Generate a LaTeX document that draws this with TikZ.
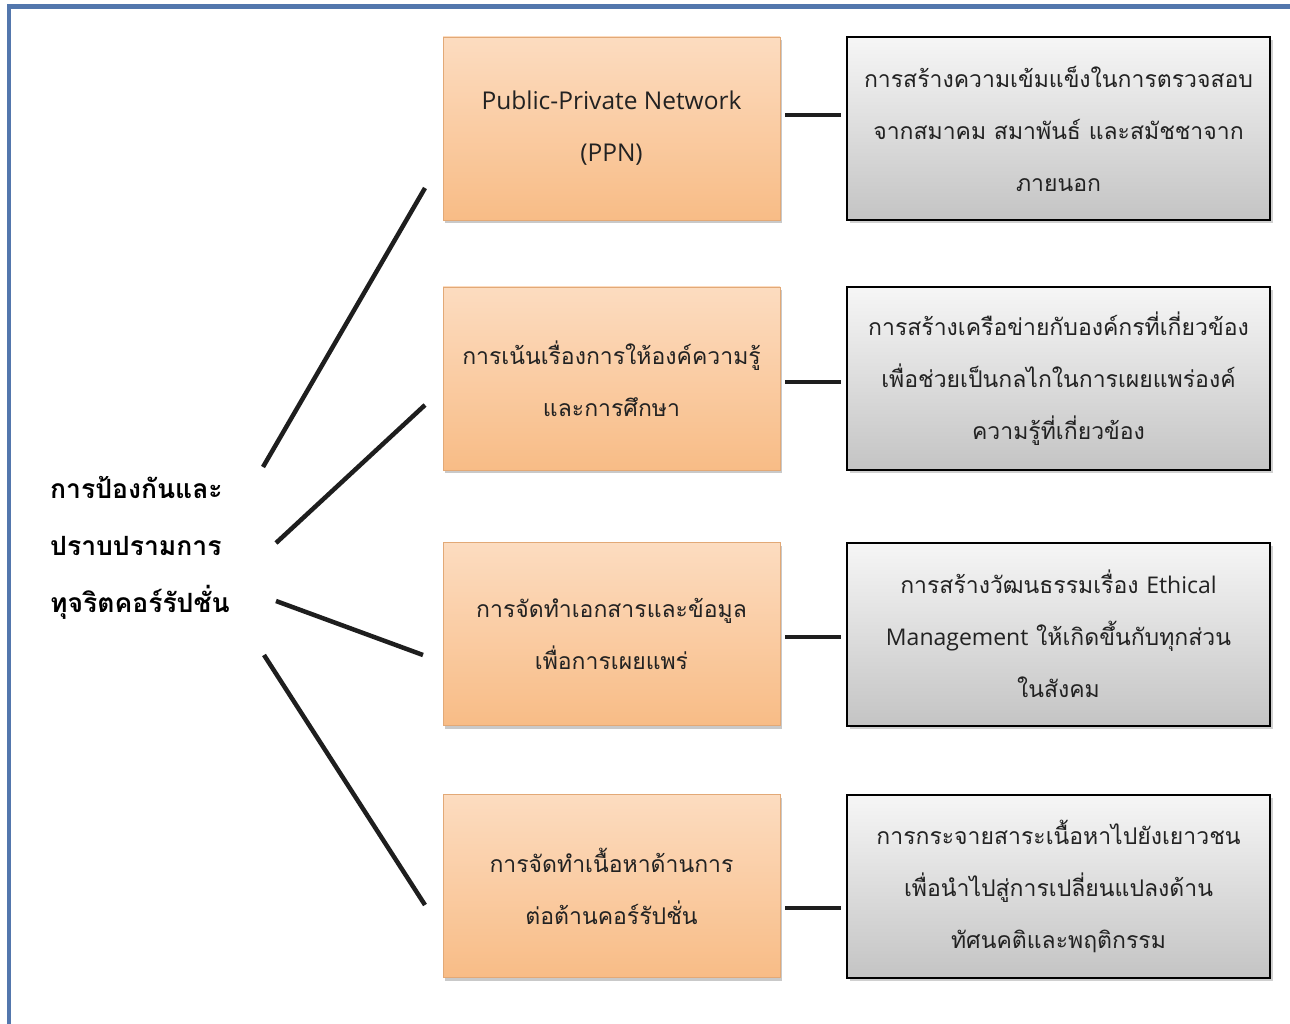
\documentclass[tikz,border=0pt]{standalone}
\usepackage{fontspec}
\usetikzlibrary{shadows,calc}
\newfontfamily\thaifont[Script=Thai]{Loma}
\newfontfamily\latinfont{Open Sans}
\definecolor{frameblue}{HTML}{5377AD}
\definecolor{orangetop}{HTML}{FCDCC0}
\definecolor{orangebot}{HTML}{F8BC86}
\definecolor{orangeedge}{HTML}{E2A977}
\definecolor{graytop}{HTML}{F6F6F6}
\definecolor{graybot}{HTML}{C4C4C4}
\definecolor{textgray}{HTML}{222222}
\definecolor{linedark}{HTML}{1E1E1E}
\begin{document}
\begin{tikzpicture}[x=1pt,y=-1pt,
  orangebox/.style={draw=orangeedge, line width=0.8pt, top color=orangetop, bottom color=orangebot,
    minimum width=337pt, minimum height=183pt, inner sep=0pt, align=center, text=textgray,
    font=\thaifont\fontsize{23}{52}\selectfont,
    drop shadow={shadow xshift=2pt, shadow yshift=-3pt, opacity=0.35, fill=black!60}},
  graybox/.style={draw=black, line width=2pt, top color=graytop, bottom color=graybot,
    minimum width=423pt, minimum height=183pt, inner sep=0pt, align=center, text=textgray,
    font=\thaifont\fontsize{23}{52}\selectfont,
    drop shadow={shadow xshift=3pt, shadow yshift=-3pt, opacity=0.3, fill=black!60}},
  rootbox/.style={align=left, text=black, inner sep=0pt,
    font=\thaifont\bfseries\fontsize{26.5}{57}\selectfont},
  conn/.style={draw=linedark, line width=4.5pt}
]
\useasboundingbox (0,0) rectangle (1290,1024);
\fill[white] (0,0) rectangle (1290,1024);
% frame
\draw[frameblue, line width=4.5pt] (9,1024) -- (9,6.5) -- (1290,6.5);

% root
\node[rootbox, anchor=west] (root) at (50,548) {การป้องกันและ\\ปราบปรามการ\\ทุจริตคอร์รัปชั่น};

% orange boxes
\node[orangebox] (o1) at (611.5,128.5) {{\latinfont\fontsize{24.5}{52}\selectfont Public-Private Network}\\{\latinfont\fontsize{24.5}{52}\selectfont (PPN)}};
\node[orangebox] (o2) at (611.5,378.5) {การเน้นเรื่องการให้องค์ความรู้\\และการศึกษา};
\node[orangebox] (o3) at (611.5,634) {การจัดทำเอกสารและข้อมูล\\เพื่อการเผยแพร่};
\node[orangebox] (o4) at (611.5,886) {การจัดทำเนื้อหาด้านการ\\ต่อต้านคอร์รัปชั่น};

% gray boxes
\node[graybox] (g1) at (1058.5,128.5) {การสร้างความเข้มแข็งในการตรวจสอบ\\จากสมาคม สมาพันธ์ และสมัชชาจาก\\ภายนอก};
\node[graybox] (g2) at (1058.5,378.5) {การสร้างเครือข่ายกับองค์กรที่เกี่ยวข้อง\\เพื่อช่วยเป็นกลไกในการเผยแพร่องค์\\ความรู้ที่เกี่ยวข้อง};
\node[graybox] (g3) at (1058.5,634) {การสร้างวัฒนธรรมเรื่อง {\latinfont\fontsize{23}{52}\selectfont Ethical}\\{\latinfont\fontsize{23}{52}\selectfont Management} ให้เกิดขึ้นกับทุกส่วน\\ในสังคม};
\node[graybox] (g4) at (1058.5,886) {การกระจายสาระเนื้อหาไปยังเยาวชน\\เพื่อนำไปสู่การเปลี่ยนแปลงด้าน\\ทัศนคติและพฤติกรรม};

% horizontal connectors
\coordinate (h1) at (0,115);
\coordinate (h2) at (0,382);
\coordinate (h3) at (0,637);
\coordinate (h4) at (0,908);
\foreach \i in {1,2,3,4}{
  \draw[conn, shorten <=5pt, shorten >=5pt] (o\i.east |- h\i) -- (g\i.west |- h\i);
}

% fan lines from root to orange boxes
\coordinate (r1) at (263,467);
\coordinate (r2) at (276,543);
\coordinate (r3) at (276,601);
\coordinate (r4) at (264,655);
\coordinate (b1) at (425,188);
\coordinate (b2) at (425,405);
\coordinate (b3) at (423,655);
\coordinate (b4) at (425,905);
\foreach \i in {1,2,3,4}{
  \draw[conn] (r\i) -- (b\i);
}
\end{tikzpicture}
\end{document}
